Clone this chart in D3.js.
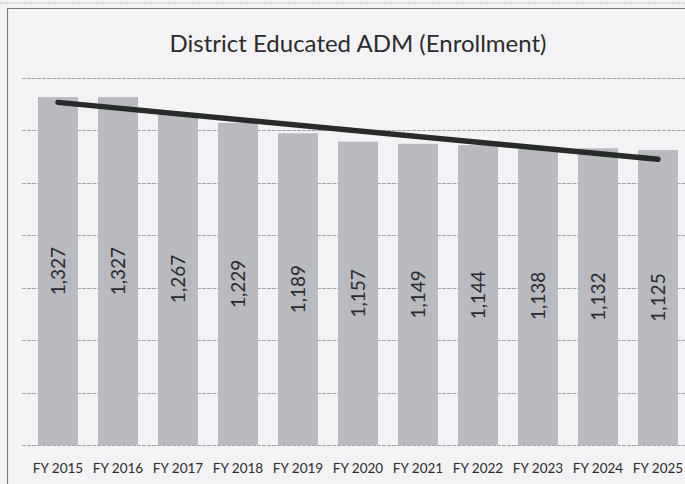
<!DOCTYPE html>
<html>
<head>
<meta charset="utf-8">
<script src="https://cdn.jsdelivr.net/npm/d3@7"></script>
<style>
  html, body { margin: 0; padding: 0; background: #f3f3f5; }
  svg { display: block; }
</style>
</head>
<body>
<svg id="chart" width="685" height="484"></svg>
<script>
// Enrollment by fiscal year
const years = ["FY 2015", "FY 2016", "FY 2017", "FY 2018", "FY 2019", "FY 2020",
               "FY 2021", "FY 2022", "FY 2023", "FY 2024", "FY 2025"];
const enrollment = [1327, 1327, 1267, 1229, 1189, 1157, 1149, 1144, 1138, 1132, 1125];
const yTicks = [0, 200, 400, 600, 800, 1000, 1200, 1400];
const chartTitle = "District Educated ADM (Enrollment)";

const svg = d3.select("#chart");
const W = 685, H = 484;
const plot = { left: 28, right: 688, top: 78, bottom: 445 };
const FONT = "Lato, 'Open Sans', sans-serif";

svg.append("rect").attr("width", W).attr("height", H).attr("fill", "#f3f3f5");

// chart frame
svg.append("line").attr("x1", 0).attr("x2", W).attr("y1", 3).attr("y2", 3)
  .attr("stroke", "#b5b5b8").attr("stroke-width", 1).attr("stroke-dasharray", "2,1");
svg.append("path")
  .attr("d", `M7.5,${H} V8.5 H${W}`)
  .attr("fill", "none").attr("stroke", "#7d7d80").attr("stroke-width", 1.2);

const x = d3.scaleBand()
  .domain(years)
  .range([plot.left, plot.right])
  .paddingInner(1 / 3)
  .paddingOuter(1 / 6);

const y = d3.scaleLinear()
  .domain([0, 1400])
  .range([plot.bottom, plot.top]);

// horizontal gridlines
svg.append("g")
  .selectAll("line")
  .data(yTicks)
  .join("line")
  .attr("x1", 22).attr("x2", W)
  .attr("y1", d => Math.round(y(d)) + 0.5)
  .attr("y2", d => Math.round(y(d)) + 0.5)
  .attr("stroke", "#a4a4a8")
  .attr("stroke-width", 1)
  .attr("stroke-dasharray", "4,1");

// bars
svg.append("g")
  .selectAll("rect")
  .data(enrollment)
  .join("rect")
  .attr("x", (d, i) => x(years[i]))
  .attr("width", x.bandwidth())
  .attr("y", d => y(d))
  .attr("height", d => y(0) - y(d))
  .attr("fill", "#b9b9c0");

// value labels, rotated and centred in each bar
svg.append("g")
  .selectAll("text")
  .data(enrollment)
  .join("text")
  .attr("transform", (d, i) => {
    const cx = x(years[i]) + x.bandwidth() / 2;
    const cy = (y(d) + y(0)) / 2;
    return `translate(${cx},${cy}) rotate(-90)`;
  })
  .attr("text-anchor", "middle")
  .attr("dy", "0.35em")
  .attr("font-family", FONT)
  .attr("font-size", 19)
  .attr("fill", "#2b2b2e")
  .text(d => d3.format(",")(d));

// linear trendline fitted to the enrollment values
const n = enrollment.length;
const mx = d3.mean(enrollment, (d, i) => i);
const my = d3.mean(enrollment);
const slope = d3.sum(enrollment, (d, i) => (i - mx) * (d - my)) /
              d3.sum(enrollment, (d, i) => (i - mx) * (i - mx));
const intercept = my - slope * mx;
const trend = [0, n - 1].map(i => [x(years[i]) + x.bandwidth() / 2, y(intercept + slope * i)]);
svg.append("path")
  .attr("d", d3.line()(trend))
  .attr("fill", "none")
  .attr("stroke", "#272b29")
  .attr("stroke-width", 5.5)
  .attr("stroke-linecap", "round");

// category axis labels
const xAxis = svg.append("g")
  .attr("transform", `translate(0,${plot.bottom})`)
  .call(d3.axisBottom(x).tickSize(0).tickPadding(18));
xAxis.select(".domain").remove();
xAxis.selectAll("text")
  .attr("font-family", FONT)
  .attr("font-size", 13.5)
  .attr("fill", "#2b2b2e");

// title
svg.append("text")
  .attr("x", 358)
  .attr("y", 52)
  .attr("text-anchor", "middle")
  .attr("font-family", FONT)
  .attr("font-size", 24)
  .attr("fill", "#2b2b2e")
  .text(chartTitle);
</script>
</body>
</html>
